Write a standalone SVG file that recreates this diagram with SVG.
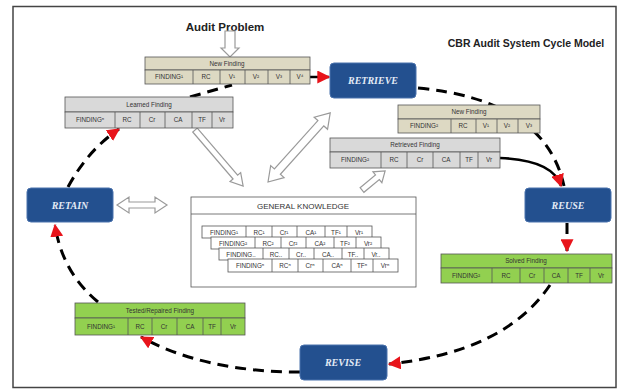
<svg xmlns="http://www.w3.org/2000/svg" width="621" height="391" viewBox="0 0 621 391">
<defs>
<style>
.frame{fill:#fff;stroke:#444;stroke-width:1.5}
.proc rect{fill:#23508f;stroke:#4a72ad;stroke-width:1}
.proc text{font-family:"Liberation Serif",serif;font-style:italic;font-weight:bold;font-size:10px;fill:#e4ebf6;text-anchor:middle}
.tb rect,.tb line{stroke:#555;stroke-width:0.8}
.beige rect{fill:#ddd9c3}
.gray rect{fill:#d9d9d9}
.green rect{fill:#92d050}
.white rect{fill:#fff}
.tb text{font-family:"Liberation Sans",Arial,sans-serif;font-size:6.3px;fill:#333;text-anchor:middle}
.dash{fill:none;stroke:#000;stroke-width:3;stroke-dasharray:11 7}
.solid{fill:none;stroke:#000;stroke-width:2.5}
.hollow{fill:#fff;stroke:#9a9a9a;stroke-width:1.2}
.title{font-family:"Liberation Sans",Arial,sans-serif;font-weight:bold;fill:#222}
</style>
<marker id="red" markerUnits="userSpaceOnUse" viewBox="0 0 10 10" refX="9" refY="5" markerWidth="13" markerHeight="13" orient="auto">
<path d="M0,0 L10,5 L0,10 z" fill="#e8141b"/>
</marker>
</defs>
<rect class="frame" x="13" y="6.5" width="603" height="381"/>

<text class="title" x="225" y="31" font-size="11.5" text-anchor="middle">Audit Problem</text>
<text class="title" x="526" y="47" font-size="10.5" text-anchor="middle">CBR Audit System Cycle Model</text>

<g id="connectors">
<path class="dash" d="M418,88 Q545,100 564,186"/>
<path class="solid" d="M500,158 Q553,160 561,186" marker-end="url(#red)"/>
<path class="dash" d="M567,223 L567,251" marker-end="url(#red)"/>
<path class="dash" d="M550,285 Q505,352 389,364" marker-end="url(#red)"/>
<path class="dash" d="M300,372 Q205,372 141,337" marker-end="url(#red)"/>
<path class="dash" d="M98,302 Q62,272 55,225" marker-end="url(#red)"/>
<path class="dash" d="M68,187 Q88,150 119,129" marker-end="url(#red)"/>
<path class="dash" d="M190,97 L232,85"/>
<path class="solid" d="M310,77 L329,77" marker-end="url(#red)"/>
<polygon class="hollow" transform="translate(230,31) rotate(90)" points="0,-5 17,-5 17,-9 26,0 17,9 17,5 0,5"/>
<polygon class="hollow" transform="translate(195,130) rotate(49.4)" points="0,-3 62,-3 62,-7 74,0 62,7 62,3 0,3"/>
<polygon class="hollow" transform="translate(268,182) rotate(-48)" points="0,0 14,-9 14,-4 79,-4 79,-9 93,0 79,9 79,4 14,4 14,9"/>
<polygon class="hollow" transform="translate(362,190) rotate(-39.6)" points="0,-3 20,-3 20,-7 30,0 20,7 20,3 0,3"/>
<polygon class="hollow" transform="translate(117,205)" points="0,0 12,-8 12,-3 38,-3 38,-8 50,0 38,8 38,3 12,3 12,8"/>
</g>

<g id="retrieve" class="proc"><rect x="330" y="63" width="86" height="35" rx="4"/><text x="373" y="84">RETRIEVE</text></g>
<g id="reuse" class="proc"><rect x="525" y="188" width="86" height="34" rx="4"/><text x="568" y="209">REUSE</text></g>
<g id="revise" class="proc"><rect x="300" y="345" width="87" height="35" rx="4"/><text x="343" y="366">REVISE</text></g>
<g id="retain" class="proc"><rect x="27" y="188" width="86" height="34" rx="4"/><text x="70" y="209">RETAIN</text></g>

<g id="new-finding-top" class="tb beige">
<rect x="145" y="57" width="165" height="13"/><rect x="145" y="70" width="165" height="14"/>
<line x1="193" y1="70" x2="193" y2="84"/><line x1="220" y1="70" x2="220" y2="84"/><line x1="245" y1="70" x2="245" y2="84"/><line x1="268" y1="70" x2="268" y2="84"/><line x1="290" y1="70" x2="290" y2="84"/>
<text x="227" y="66">New Finding</text>
<text x="169" y="79">FINDING¹</text><text x="206" y="79">RC</text><text x="232" y="79">V¹</text><text x="256" y="79">V²</text><text x="279" y="79">V³</text><text x="300" y="79">V⁴</text>
</g>

<g id="learned-finding" class="tb gray">
<rect x="65" y="97" width="168" height="15"/><rect x="65" y="112" width="168" height="16"/>
<line x1="115" y1="112" x2="115" y2="128"/><line x1="140" y1="112" x2="140" y2="128"/><line x1="165" y1="112" x2="165" y2="128"/><line x1="192" y1="112" x2="192" y2="128"/><line x1="212" y1="112" x2="212" y2="128"/>
<text x="149" y="107">Learned Finding</text>
<text x="90" y="122">FINDINGⁿ</text><text x="127" y="122">RC</text><text x="152" y="122">Cr</text><text x="178" y="122">CA</text><text x="202" y="122">TF</text><text x="222" y="122">Vr</text>
</g>

<g id="new-finding-right" class="tb beige">
<rect x="398" y="105" width="142" height="14"/><rect x="398" y="119" width="142" height="14"/>
<line x1="451" y1="119" x2="451" y2="133"/><line x1="476" y1="119" x2="476" y2="133"/><line x1="497" y1="119" x2="497" y2="133"/><line x1="518" y1="119" x2="518" y2="133"/>
<text x="469" y="114">New Finding</text>
<text x="424" y="128">FINDING²</text><text x="463" y="128">RC</text><text x="486" y="128">V¹</text><text x="507" y="128">V²</text><text x="529" y="128">V³</text>
</g>

<g id="retrieved-finding" class="tb gray">
<rect x="330" y="138" width="170" height="14"/><rect x="330" y="152" width="170" height="16"/>
<line x1="381" y1="152" x2="381" y2="168"/><line x1="407" y1="152" x2="407" y2="168"/><line x1="433" y1="152" x2="433" y2="168"/><line x1="460" y1="152" x2="460" y2="168"/><line x1="478" y1="152" x2="478" y2="168"/>
<text x="415" y="147">Retrieved Finding</text>
<text x="355" y="162">FINDING²</text><text x="394" y="162">RC</text><text x="420" y="162">Cr</text><text x="446" y="162">CA</text><text x="469" y="162">TF</text><text x="489" y="162">Vr</text>
</g>

<g id="solved-finding" class="tb green">
<rect x="441" y="254" width="171" height="14"/><rect x="441" y="268" width="171" height="15"/>
<line x1="492" y1="268" x2="492" y2="283"/><line x1="520" y1="268" x2="520" y2="283"/><line x1="544" y1="268" x2="544" y2="283"/><line x1="568" y1="268" x2="568" y2="283"/><line x1="590" y1="268" x2="590" y2="283"/>
<text x="526" y="263">Solved Finding</text>
<text x="466" y="278">FINDING²</text><text x="506" y="278">RC</text><text x="532" y="278">Cr</text><text x="556" y="278">CA</text><text x="579" y="278">TF</text><text x="601" y="278">Vr</text>
</g>

<g id="tested-finding" class="tb green">
<rect x="75" y="303" width="170" height="15"/><rect x="75" y="318" width="170" height="17"/>
<line x1="128" y1="318" x2="128" y2="335"/><line x1="152" y1="318" x2="152" y2="335"/><line x1="177" y1="318" x2="177" y2="335"/><line x1="203" y1="318" x2="203" y2="335"/><line x1="221" y1="318" x2="221" y2="335"/>
<text x="160" y="313">Tested/Repaired Finding</text>
<text x="101" y="329">FINDING¹</text><text x="140" y="329">RC</text><text x="164" y="329">Cr</text><text x="190" y="329">CA</text><text x="212" y="329">TF</text><text x="233" y="329">Vr</text>
</g>

<g id="general-knowledge">
<rect x="191" y="197" width="225" height="90" fill="#fff" stroke="#555" stroke-width="0.8"/>
<line x1="191" y1="214" x2="416" y2="214" stroke="#555" stroke-width="0.8"/>
<text x="303" y="209" font-family="'Liberation Sans',Arial,sans-serif" font-size="8" fill="#333" text-anchor="middle">GENERAL KNOWLEDGE</text>
<g class="tb white" transform="translate(202,226)">
<rect width="170" height="12"/><line x1="44" y1="0" x2="44" y2="12"/><line x1="70" y1="0" x2="70" y2="12"/><line x1="95" y1="0" x2="95" y2="12"/><line x1="123" y1="0" x2="123" y2="12"/><line x1="145" y1="0" x2="145" y2="12"/>
<text x="22" y="8.5">FINDING¹</text><text x="57" y="8.5">RC¹</text><text x="82" y="8.5">Cr¹</text><text x="109" y="8.5">CA¹</text><text x="134" y="8.5">TF¹</text><text x="157" y="8.5">Vr¹</text>
</g>
<g class="tb white" transform="translate(211,237)">
<rect width="170" height="12"/><line x1="44" y1="0" x2="44" y2="12"/><line x1="70" y1="0" x2="70" y2="12"/><line x1="95" y1="0" x2="95" y2="12"/><line x1="123" y1="0" x2="123" y2="12"/><line x1="145" y1="0" x2="145" y2="12"/>
<text x="22" y="8.5">FINDING²</text><text x="57" y="8.5">RC²</text><text x="82" y="8.5">Cr²</text><text x="109" y="8.5">CA²</text><text x="134" y="8.5">TF²</text><text x="157" y="8.5">Vr²</text>
</g>
<g class="tb white" transform="translate(219,248)">
<rect width="170" height="12"/><line x1="44" y1="0" x2="44" y2="12"/><line x1="70" y1="0" x2="70" y2="12"/><line x1="95" y1="0" x2="95" y2="12"/><line x1="123" y1="0" x2="123" y2="12"/><line x1="145" y1="0" x2="145" y2="12"/>
<text x="22" y="8.5">FINDING..</text><text x="57" y="8.5">RC..</text><text x="82" y="8.5">Cr..</text><text x="109" y="8.5">CA..</text><text x="134" y="8.5">TF..</text><text x="157" y="8.5">Vr..</text>
</g>
<g class="tb white" transform="translate(228,259)">
<rect width="170" height="13"/><line x1="44" y1="0" x2="44" y2="13"/><line x1="70" y1="0" x2="70" y2="13"/><line x1="95" y1="0" x2="95" y2="13"/><line x1="123" y1="0" x2="123" y2="13"/><line x1="145" y1="0" x2="145" y2="13"/>
<text x="22" y="9">FINDINGⁿ</text><text x="57" y="9">RCⁿ</text><text x="82" y="9">Crⁿ</text><text x="109" y="9">CAⁿ</text><text x="134" y="9">TFⁿ</text><text x="157" y="9">Vrⁿ</text>
</g>
</g>
</svg>
